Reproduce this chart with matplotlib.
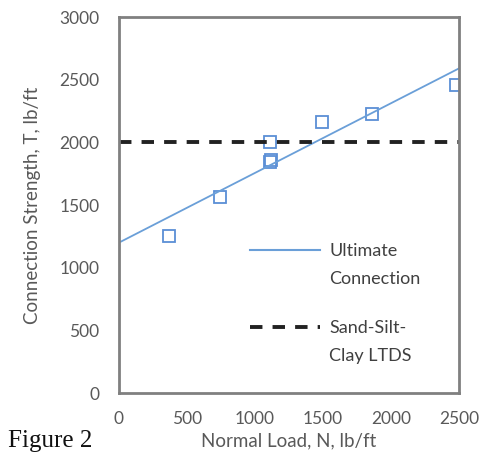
import matplotlib
matplotlib.use("Agg")
import matplotlib.pyplot as plt
from matplotlib.lines import Line2D

# measured points
normal_load = [370, 740, 1110, 1110, 1120, 1490, 1860, 2480]
strength = [1250, 1560, 2000, 1840, 1860, 2160, 2230, 2460]
# trend line end points
trend_x = [0, 2500]
trend_y = [1200, 2590]
# LTDS
ltds_x = [0, 2500]
ltds_y = [2000, 2000]

xticks = [0, 500, 1000, 1500, 2000, 2500]
yticks = [0, 500, 1000, 1500, 2000, 2500, 3000]

GRAY = "#595959"
BLUE = "#6a9fd8"
plt.rcParams['font.family'] = ['Lato', 'DejaVu Sans']

fig = plt.figure(figsize=(4.93, 4.54), dpi=100)
ax = fig.add_axes([119/493, 61/454, 340/493, 376/454])

ax.plot(normal_load, strength, linestyle='none', marker='s', markersize=9,
        markerfacecolor='none', markeredgecolor='#5b8fd6', markeredgewidth=1.3)
ax.plot(trend_x, trend_y, color=BLUE, linewidth=1.3)
ax.plot(ltds_x, ltds_y, color='#222222', linewidth=2.8, dashes=(3.2, 2.6))

ax.set_xlim(0, 2500)
ax.set_ylim(0, 3000)
ax.set_xticks(xticks)
ax.set_yticks(yticks)
ax.tick_params(length=0, labelsize=12.5, labelcolor=GRAY)
ax.tick_params(axis='y', pad=14)
ax.tick_params(axis='x', pad=13)
for s in ax.spines.values():
    s.set_color('#808080')
    s.set_linewidth(2)

ax.set_xlabel('Normal Load, N, lb/ft', fontsize=13.5, color=GRAY, labelpad=4)
ax.set_ylabel('Connection Strength, T, lb/ft', fontsize=13.5, color=GRAY, labelpad=13)

# legend: handle sits next to the first line of each label
blank = Line2D([], [], color='none')
h1 = Line2D([], [], color=BLUE, linewidth=1.5)
h2 = Line2D([], [], color='#222222', linewidth=2.8, dashes=(3.2, 2.6))
kw = dict(frameon=False, fontsize=13, handlelength=3.9, labelspacing=0.65,
          handletextpad=0.5, borderpad=0, borderaxespad=0, loc='upper left')
leg1 = ax.legend([h1, blank], ['Ultimate', 'Connection'],
                 bbox_to_anchor=(131/340, (393 - 243)/376), **kw)
ax.add_artist(leg1)
leg2 = ax.legend([h2, blank], ['Sand-Silt-', 'Clay LTDS'],
                 bbox_to_anchor=(131/340, (393 - 320)/376), **kw)
for lg in (leg1, leg2):
    for t in lg.get_texts():
        t.set_color('#404040')

fig.text(8/493, 1 - 447/454, 'Figure 2', family='Liberation Serif', fontsize=18,
         color='#111111', va='baseline')

fig.savefig('out.png', dpi=100)
